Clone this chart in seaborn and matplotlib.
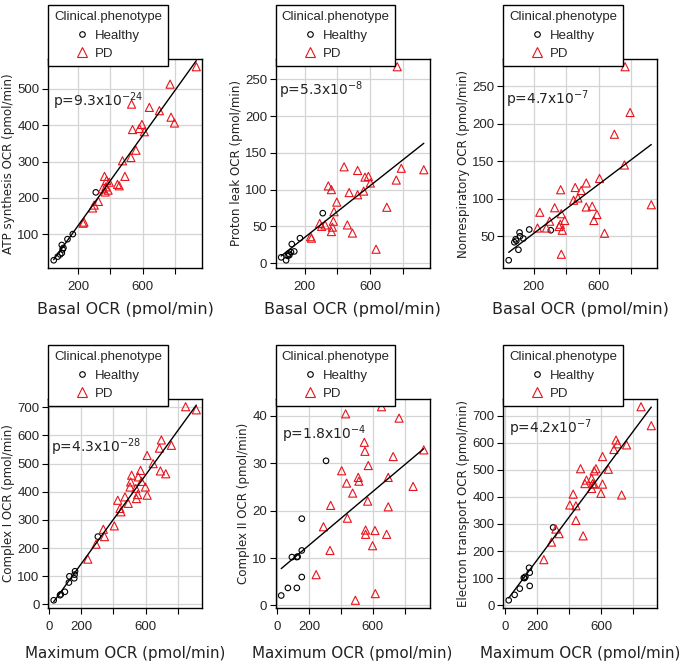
import matplotlib
matplotlib.use("Agg")
import matplotlib.pyplot as plt
from matplotlib.lines import Line2D
import seaborn as sns
import numpy as np
import pandas as pd

# ---- data ----
# top row: x = Basal OCR
atp_h_x = [50, 75, 90, 100, 105, 100, 110, 135, 168, 310]
atp_h_y = [28, 38, 44, 48, 58, 70, 62, 86, 100, 215]
atp_pd_x = [931, 769, 531, 641, 703, 775, 796, 537, 579, 595, 610, 558, 527, 475, 490,
            444, 455, 364, 377, 393, 372, 368, 386, 351, 326, 300, 290, 237, 231]
atp_pd_y = [561, 513, 458, 449, 440, 422, 406, 388, 391, 402, 382, 331, 311, 302, 259,
            237, 233, 259, 248, 243, 230, 216, 221, 225, 190, 180, 172, 133, 130]

leak_h_x = [55, 85, 95, 105, 115, 120, 135, 170, 310, 100]
leak_h_y = [8, 4, 10, 11, 15, 26, 16, 34, 68, 13]
leak_pd_x = [767, 930, 792, 761, 703, 637, 441, 524, 569, 590, 602, 561, 524, 472, 396,
             379, 344, 363, 461, 492, 375, 369, 363, 324, 291, 303, 235, 241]
leak_pd_y = [267, 127, 129, 113, 76, 19, 131, 126, 117, 118, 109, 98, 93, 96, 83,
             70, 105, 100, 52, 41, 57, 49, 43, 52, 54, 50, 36, 34]

nonr_h_x = [45, 80, 88, 105, 115, 112, 135, 172, 305, 92]
nonr_h_y = [18, 42, 46, 32, 50, 55, 47, 59, 58, 44]
nonr_pd_x = [764, 795, 698, 760, 926, 366, 456, 493, 524, 606, 446, 473, 524, 561, 590,
             571, 637, 329, 237, 298, 278, 223, 356, 364, 370, 391, 376, 370]
nonr_pd_y = [276, 215, 186, 145, 92, 112, 115, 111, 121, 127, 98, 101, 89, 90, 79,
             71, 54, 88, 82, 70, 61, 61, 63, 66, 80, 71, 58, 26]

# bottom row: x = Maximum OCR
c1_h_x = [31, 70, 100, 125, 128, 158, 163, 160, 304, 75]
c1_h_y = [15, 33, 45, 78, 100, 93, 118, 106, 241, 36]
c1_pd_x = [847, 913, 697, 685, 759, 691, 724, 646, 609, 609, 598, 568, 554, 574, 539,
           550, 543, 513, 507, 503, 472, 492, 427, 441, 447, 406, 338, 345, 293, 242]
c1_pd_y = [702, 691, 584, 555, 565, 474, 464, 500, 529, 388, 417, 476, 453, 437, 412,
           390, 376, 459, 435, 417, 382, 359, 370, 341, 329, 279, 267, 241, 214, 161]

c2_h_x = [25, 67, 123, 92, 123, 154, 154, 154, 306, 128]
c2_h_y = [2.1, 3.7, 3.7, 10.2, 10.2, 6.0, 11.6, 18.3, 30.5, 10.3]
c2_pd_x = [429, 654, 764, 919, 852, 727, 696, 696, 686, 546, 550, 571, 567, 508, 512,
           473, 435, 404, 335, 440, 290, 331, 554, 554, 613, 598, 615, 490, 244]
c2_pd_y = [40.4, 41.9, 39.5, 32.8, 25.1, 31.4, 27.0, 20.8, 15.0, 34.4, 32.5, 29.5, 22.0, 27.0, 26.2,
           23.7, 25.8, 28.4, 21.1, 18.4, 16.6, 11.6, 15.9, 15.0, 15.8, 12.6, 2.5, 1.1, 6.5]

et_h_x = [23, 60, 92, 117, 127, 154, 154, 150, 300, 122]
et_h_y = [18, 38, 61, 101, 105, 71, 120, 138, 287, 100]
et_pd_x = [848, 912, 692, 702, 679, 758, 608, 644, 567, 556, 471, 508, 498, 540, 546,
           556, 540, 608, 598, 727, 425, 404, 442, 442, 487, 317, 337, 290, 242]
et_pd_y = [733, 663, 610, 596, 575, 592, 549, 502, 504, 496, 504, 462, 449, 468, 449,
           447, 431, 447, 413, 407, 410, 370, 367, 313, 256, 281, 264, 233, 168]

ylabels = ["ATP synthesis OCR (pmol/min)", "Proton leak OCR (pmol/min)",
           "Nonrespiratory OCR (pmol/min)", "Complex I OCR (pmol/min)",
           "Complex II OCR (pmol/min)", "Electron transport OCR (pmol/min)"]
xlabels = ["Basal OCR (pmol/min)"] * 3 + ["Maximum OCR (pmol/min)"] * 3
pvals = [("9.3", "-24"), ("5.3", "-8"), ("4.7", "-7"),
         ("4.3", "-28"), ("1.8", "-4"), ("4.2", "-7")]
yticks = [[100, 200, 300, 400, 500], [0, 50, 100, 150, 200, 250], [50, 100, 150, 200, 250],
          [0, 100, 200, 300, 400, 500, 600, 700], [0, 10, 20, 30, 40],
          [0, 100, 200, 300, 400, 500, 600, 700]]
xticks_top = [200, 400, 600, 800]
xticklabels_top = ["200", "", "600", ""]
xticks_bot = [0, 200, 400, 600, 800]
xticklabels_bot = ["0", "200", "", "600", ""]
groups = ["Healthy", "PD"]

panels = [(atp_h_x, atp_h_y, atp_pd_x, atp_pd_y),
          (leak_h_x, leak_h_y, leak_pd_x, leak_pd_y),
          (nonr_h_x, nonr_h_y, nonr_pd_x, nonr_pd_y),
          (c1_h_x, c1_h_y, c1_pd_x, c1_pd_y),
          (c2_h_x, c2_h_y, c2_pd_x, c2_pd_y),
          (et_h_x, et_h_y, et_pd_x, et_pd_y)]
ptext_pos = [(0.03, 0.80), (0.02, 0.85), (0.02, 0.81), (0.02, 0.77), (0.04, 0.83), (0.04, 0.86)]

sns.set_theme(style="white")
plt.rcParams['font.family'] = ['Liberation Sans', 'DejaVu Sans']
plt.rcParams['mathtext.fontset'] = 'dejavusans'

W, H = 683, 664
fig = plt.figure(figsize=(W / 100, H / 100), dpi=100)

for i, (hx, hy, px, py) in enumerate(panels):
    row, col = divmod(i, 3)
    left = 48 + 227.5 * col
    bottom_px = 268 if row == 0 else 608
    ax = fig.add_axes([left / W, 1 - bottom_px / H, 154 / W, 209 / H])

    df = pd.DataFrame({
        "x": list(hx) + list(px),
        "y": list(hy) + list(py),
        "Clinical.phenotype": ["Healthy"] * len(hx) + ["PD"] * len(px),
    })

    sns.scatterplot(data=df[df["Clinical.phenotype"] == "Healthy"], x="x", y="y", ax=ax,
                    marker="o", s=16, facecolor="none", edgecolor="black", linewidth=0.8,
                    zorder=3, clip_on=False)
    sns.scatterplot(data=df[df["Clinical.phenotype"] == "PD"], x="x", y="y", ax=ax,
                    marker="^", s=34, facecolor="none", edgecolor="#e8141c", linewidth=0.8,
                    zorder=3, clip_on=False)
    sns.regplot(data=df, x="x", y="y", ax=ax, scatter=False, ci=None, truncate=True,
                line_kws=dict(color="black", lw=1.0, zorder=4))

    # R style 4% padding
    xr = df["x"].max() - df["x"].min()
    yr = df["y"].max() - df["y"].min()
    ax.set_xlim(df["x"].min() - 0.04 * xr, df["x"].max() + 0.04 * xr)
    ax.set_ylim(df["y"].min() - 0.04 * yr, df["y"].max() + 0.04 * yr)

    if row == 0:
        ax.set_xticks(xticks_top)
        ax.set_xticklabels(xticklabels_top)
    else:
        ax.set_xticks(xticks_bot)
        ax.set_xticklabels(xticklabels_bot)
    ax.set_yticks(yticks[i])
    ax.grid(True, color="#d4d4d4", lw=0.9)
    ax.set_axisbelow(True)
    ax.tick_params(axis="both", direction="out", length=4, width=0.8, color="black",
                   labelsize=9.5, pad=2, bottom=True, left=True)
    ax.tick_params(axis="x", pad=5)
    for sp in ax.spines.values():
        sp.set_color("black")
        sp.set_linewidth(1.0)

    ax.set_xlabel(xlabels[i], fontsize=11.5 if row == 0 else 10.9, family="DejaVu Sans",
                  color="#222222", labelpad=7 if row == 0 else 10)
    ax.set_ylabel(ylabels[i], fontsize=8.6, family="DejaVu Sans", color="#222222", labelpad=1.5)

    m, e = pvals[i]
    ax.text(ptext_pos[i][0], ptext_pos[i][1], f"p={m}x10$^{{{e}}}$", transform=ax.transAxes,
            ha="left", va="center", fontsize=10, family="DejaVu Sans", color="#222222")

    handles = [Line2D([], [], marker="o", ls="", mfc="none", mec="black", ms=4, mew=0.8),
               Line2D([], [], marker="^", ls="", mfc="none", mec="#e8141c", ms=6.5, mew=0.8)]
    leg = ax.legend(handles, groups, title="Clinical.phenotype", loc="lower left",
                    bbox_to_anchor=(0, 0.9665), borderaxespad=0, frameon=True, fancybox=False,
                    edgecolor="black", framealpha=1, fontsize=9.5, title_fontsize=9.5,
                    handlelength=1.0, handletextpad=0.45, labelspacing=0.47, borderpad=0.45)
    leg.get_frame().set_linewidth(1.0)
    leg.set_zorder(10)

fig.savefig("out.png", dpi=100)
